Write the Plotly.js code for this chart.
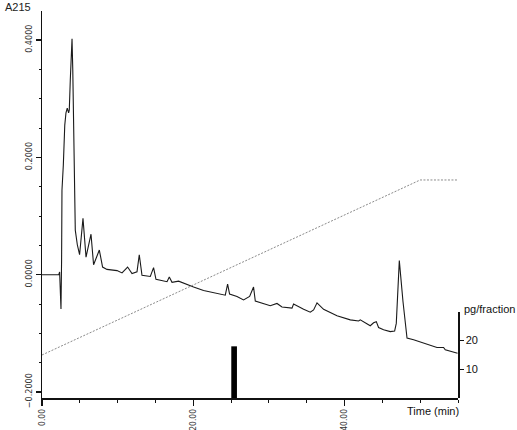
<!DOCTYPE html>
<html>
<head>
<meta charset="utf-8">
<script src="https://cdn.plot.ly/plotly-3.0.1.min.js"></script>
<style>
  body { margin: 0; background: #fff; }
  #graph { width: 517px; height: 430px; }
</style>
</head>
<body>
<div id="graph"></div>
<script>
// A215 trace (time in min, absorbance)
var time_min = [0, 2.22, 2.33, 2.42, 2.51, 2.59, 2.64, 2.82, 3.01, 3.17, 3.34, 3.52, 3.61, 3.74, 3.97,
  4.07, 4.14, 4.27, 4.40, 4.67, 4.97, 5.42, 5.82, 6.48, 6.82, 7.58, 8.01, 8.59, 9.92, 10.58,
  11.32, 11.90, 12.56, 12.86, 13.22, 14.32, 14.75, 15.07, 16.53, 16.83, 17.19, 18.06, 18.95,
  20.04, 21.36, 23.57, 24.23, 24.54, 24.80, 25.78, 26.65, 27.45, 27.97, 28.20, 29.30, 30.18,
  31.07, 31.73, 33.05, 33.26, 34.59, 35.47, 35.91, 36.36, 37.23, 39.00, 40.76, 41.86, 42.08,
  43.40, 43.84, 44.20, 44.50, 45.16, 46.05, 46.62, 46.84, 47.24, 47.73, 48.26, 49.13, 50.45,
  51.34, 52.22, 53.09, 53.32, 54.94];
var a215 = [0, 0, 0.0046, -0.026, -0.0585, 0.025, 0.144, 0.187, 0.255, 0.276, 0.284, 0.276, 0.281, 0.332, 0.402,
  0.349, 0.294, 0.184, 0.076, 0.051, 0.034, 0.096, 0.030, 0.069, 0.017, 0.042, 0.013, 0.009, 0.007, 0.003,
  0.013, 0.002, 0.005, 0.034, -0.001, -0.003, 0.012, -0.008, -0.012, -0.004, -0.013, -0.011, -0.016,
  -0.021, -0.027, -0.033, -0.035, -0.016, -0.033, -0.037, -0.043, -0.037, -0.021, -0.045, -0.049, -0.053,
  -0.049, -0.055, -0.057, -0.050, -0.059, -0.064, -0.060, -0.048, -0.059, -0.070, -0.077, -0.079, -0.077,
  -0.087, -0.082, -0.080, -0.090, -0.094, -0.097, -0.096, -0.083, 0.024, -0.046, -0.108, -0.111, -0.116,
  -0.120, -0.124, -0.124, -0.128, -0.134];

// gradient (%B, unlabelled)
var grad_time = [0, 50, 55];
var grad_b = [10, 55, 55];

// fraction assay
var frac_time = [25.4];
var frac_pg = [18];
var frac_width = [0.75];

var tickFont = { family: "Liberation Sans Narrow, DejaVu Sans Condensed, sans-serif", size: 9, color: "#333" };
var labelFont = { family: "Liberation Sans, Arial, sans-serif", size: 11, color: "#111" };

Plotly.newPlot(
  "graph",
  [
    {
      x: grad_time,
      y: grad_b,
      yaxis: "y3",
      mode: "lines",
      line: { color: "#8a8a8a", width: 1, dash: "2px,1.5px" },
      hoverinfo: "skip",
    },
    {
      x: time_min,
      y: a215,
      mode: "lines",
      line: { color: "#1a1a1a", width: 1.1 },
    },
    {
      x: frac_time,
      y: frac_pg,
      width: frac_width,
      type: "bar",
      yaxis: "y2",
      marker: { color: "#000", line: { width: 0 } },
    },
  ],
  {
    width: 517,
    height: 430,
    showlegend: false,
    margin: { l: 42, r: 59, t: 11, b: 32 },
    paper_bgcolor: "#fff",
    plot_bgcolor: "rgba(0,0,0,0)",
    xaxis: {
      range: [0, 55],
      dtick: 20,
      tick0: 0,
      tickformat: ".2f",
      tickangle: -90,
      ticks: "outside",
      ticklen: 6,
      tickwidth: 1.5,
      tickcolor: "#111",
      tickfont: { family: tickFont.family, size: 8.5, color: "#333" },
      minor: { dtick: 5, tick0: 0, ticks: "outside", ticklen: 3, tickcolor: "#111", tickwidth: 1 },
      showline: true,
      linecolor: "#111",
      linewidth: 1.5,
      showgrid: false,
      zeroline: false,
      fixedrange: true,
    },
    yaxis: {
      range: [-0.2102, 0.4495],
      dtick: 0.2,
      tick0: 0,
      tickformat: ".4f",
      tickangle: -90,
      ticks: "outside",
      ticklen: 5,
      tickwidth: 1.5,
      tickcolor: "#111",
      tickfont: tickFont,
      minor: { dtick: 0.05, tick0: 0, ticks: "outside", ticklen: 2, tickcolor: "#111", tickwidth: 1 },
      showline: true,
      linecolor: "#111",
      linewidth: 1.5,
      showgrid: false,
      zeroline: false,
      fixedrange: true,
    },
    yaxis2: {
      domain: [0, 0.2225],
      range: [0, 30],
      anchor: "x",
      side: "right",
      tickvals: [10, 20],
      ticks: "outside",
      ticklen: 4,
      tickwidth: 1.5,
      tickcolor: "#111",
      tickfont: { family: "Liberation Sans, Arial, sans-serif", size: 11, color: "#111" },
      showline: true,
      linecolor: "#111",
      linewidth: 1.5,
      showgrid: false,
      zeroline: false,
      fixedrange: true,
    },
    yaxis3: {
      overlaying: "y",
      range: [-1.06, 98.45],
      visible: false,
      fixedrange: true,
    },
    annotations: [
      { text: "A215", xref: "paper", yref: "paper", x: -0.094, y: 1.01, xanchor: "left", yanchor: "middle",
        showarrow: false, font: { family: labelFont.family, size: 11, color: "#222" } },
      { text: "Time (min)", xref: "paper", yref: "paper", x: 1.0072, y: -0.0336, xanchor: "right", yanchor: "middle",
        showarrow: false, font: labelFont },
      { text: "pg/fraction", xref: "paper", yref: "paper", x: 1.0096, y: 0.23, xanchor: "left", yanchor: "middle",
        showarrow: false, font: labelFont },
    ],
  },
  { displayModeBar: false, staticPlot: true }
);
</script>
</body>
</html>
